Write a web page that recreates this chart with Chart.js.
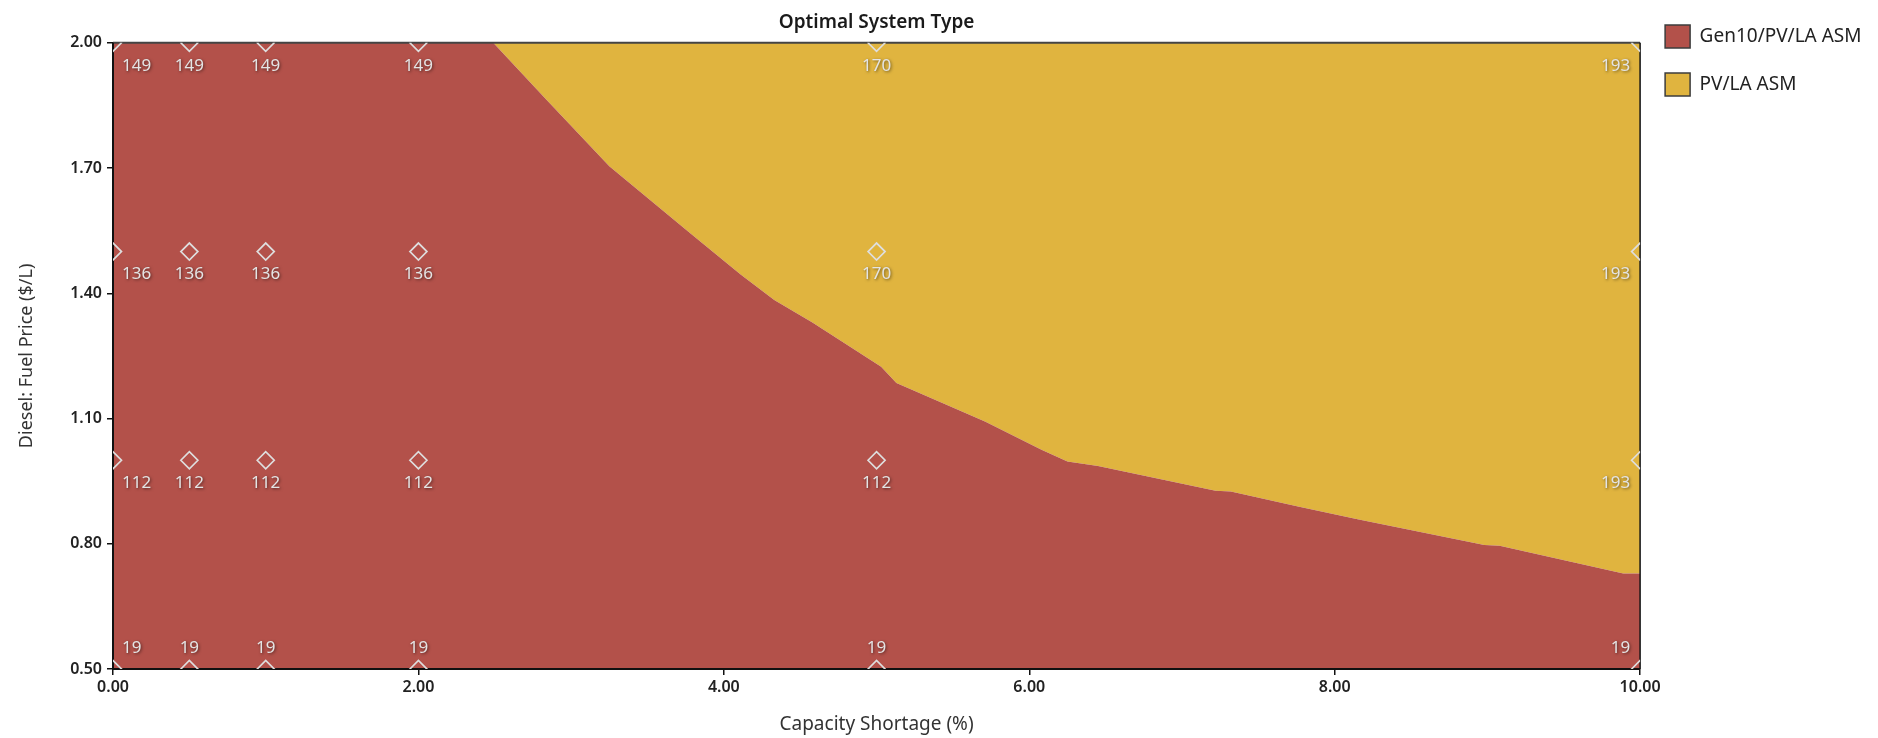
<!DOCTYPE html>
<html>
<head>
<meta charset="utf-8">
<script src="https://cdn.jsdelivr.net/npm/chart.js@4.4.1/dist/chart.umd.min.js"></script>
<style>
  body { margin: 0; background: #fff; }
  #wrap { width: 1878px; height: 738px; position: relative; }
</style>
</head>
<body>
<div id="wrap"><canvas id="chart"></canvas></div>
<script>
// sensitivity grid: capacity shortage (%) x diesel price ($/L)
const shortageValues = [0, 0.5, 1, 2, 5, 10];
const dieselPrices = [0.5, 1.0, 1.5, 2.0];
// value shown at each grid point, one row per diesel price
const costAt050 = [19, 19, 19, 19, 19, 19];
const costAt100 = [112, 112, 112, 112, 112, 193];
const costAt150 = [136, 136, 136, 136, 170, 193];
const costAt200 = [149, 149, 149, 149, 170, 193];

// edge between the two optimal system types
const boundaryX = [0, 2.49, 2.84, 3.25, 3.78, 4.11, 4.33, 4.58, 5.03, 5.13, 5.71, 6.08, 6.25, 6.45, 7.22, 7.32, 7.76, 8.15, 8.98, 9.08, 9.89, 10];
const boundaryY = [2.0, 2.0, 1.863, 1.704, 1.544, 1.445, 1.384, 1.330, 1.224, 1.185, 1.093, 1.025, 0.997, 0.986, 0.927, 0.925, 0.889, 0.859, 0.797, 0.795, 0.729, 0.729];

const systemTypes = ['Gen10/PV/LA ASM', 'PV/LA ASM'];
const typeColors = ['#b3514a', '#e0b43f'];

const xTicks = [0, 2, 4, 6, 8, 10];
const yTicks = [0.5, 0.8, 1.1, 1.4, 1.7, 2.0];

Chart.defaults.font.family = "'Noto Sans', sans-serif";
Chart.defaults.color = '#222';

const costRows = [costAt050, costAt100, costAt150, costAt200];
const gridPoints = [];
dieselPrices.forEach((p, r) => {
  shortageValues.forEach((s, c) => {
    gridPoints.push({ x: s, y: p, cost: costRows[r][c] });
  });
});
const boundary = boundaryX.map((x, i) => ({ x: x, y: boundaryY[i] }));

// frame round the plot, drawn over the fills but under the markers
const plotFrame = {
  id: 'plotFrame',
  beforeDatasetDraw(chart, args) {
    if (args.index !== 0) return;
    const { left, top, right, bottom } = chart.chartArea;
    const ctx = chart.ctx;
    ctx.save();
    ctx.lineWidth = 2;
    ctx.strokeStyle = '#444';
    ctx.beginPath(); ctx.moveTo(left, top); ctx.lineTo(right, top); ctx.stroke();
    ctx.strokeStyle = '#111';
    ctx.beginPath(); ctx.moveTo(left, top); ctx.lineTo(left, bottom); ctx.lineTo(right, bottom); ctx.stroke();
    ctx.lineWidth = 1.5;
    ctx.beginPath(); ctx.moveTo(right, top); ctx.lineTo(right, bottom); ctx.stroke();
    ctx.restore();
  }
};

// numbers next to the grid markers, kept inside the plot
const pointLabels = {
  id: 'pointLabels',
  afterDatasetsDraw(chart) {
    const meta = chart.getDatasetMeta(0);
    const area = chart.chartArea;
    const ctx = chart.ctx;
    ctx.save();
    ctx.font = "17px 'Noto Sans'";
    ctx.textAlign = 'center';
    ctx.textBaseline = 'middle';
    ctx.fillStyle = '#e4e4e4';
    ctx.shadowColor = 'rgba(0,0,0,0.55)';
    ctx.shadowBlur = 3;
    ctx.shadowOffsetX = 1;
    ctx.shadowOffsetY = 1;
    meta.data.forEach((pt, i) => {
      const text = String(chart.data.datasets[0].data[i].cost);
      const w = ctx.measureText(text).width;
      const x = Math.min(Math.max(pt.x, area.left + 9 + w / 2), area.right - 10 - w / 2);
      let y = pt.y + 23;
      if (y + 10 > area.bottom) y = pt.y - 21;
      ctx.fillText(text, x, y);
    });
    ctx.restore();
  }
};

new Chart(document.getElementById('chart'), {
  type: 'scatter',
  data: {
    datasets: [
      {
        label: 'grid',
        data: gridPoints,
        pointStyle: 'rectRot',
        pointRadius: 8.5,
        pointBackgroundColor: 'rgba(0,0,0,0)',
        pointBorderColor: '#dedede',
        pointBorderWidth: 1.7,
        clip: 0,
        order: 0
      },
      {
        type: 'line',
        label: systemTypes[0],
        data: boundary,
        backgroundColor: typeColors[0],
        borderWidth: 0,
        pointRadius: 0,
        tension: 0,
        fill: 'start',
        order: 1
      },
      {
        type: 'line',
        label: systemTypes[1],
        data: boundary,
        backgroundColor: typeColors[1],
        borderWidth: 0,
        pointRadius: 0,
        tension: 0,
        fill: 'end',
        order: 2
      }
    ]
  },
  options: {
    responsive: true,
    maintainAspectRatio: false,
    animation: false,
    events: [],
    layout: { padding: { right: 6.5 } },
    scales: {
      x: {
        type: 'linear',
        min: 0,
        max: 10,
        afterBuildTicks: (s) => { s.ticks = xTicks.map((v) => ({ value: v })); },
        afterFit: (s) => { s.height = 69; },
        ticks: {
          padding: 3,
          color: '#222',
          font: { size: 16, weight: '600' },
          callback: (v) => Number(v).toFixed(2)
        },
        grid: { display: true, drawOnChartArea: false, drawTicks: true, tickLength: 6, color: '#111', lineWidth: 1.5 },
        border: { display: false },
        title: {
          display: true,
          text: 'Capacity Shortage (%)',
          color: '#333',
          font: { size: 19 },
          padding: { top: 0, bottom: 2 }
        }
      },
      y: {
        type: 'linear',
        min: 0.5,
        max: 2.0,
        afterBuildTicks: (s) => { s.ticks = yTicks.map((v) => ({ value: v })); },
        afterFit: (s) => { s.width = 113; },
        ticks: {
          padding: 5,
          color: '#222',
          font: { size: 16, weight: '600' },
          callback: (v) => Number(v).toFixed(2)
        },
        grid: { display: true, drawOnChartArea: false, drawTicks: true, tickLength: 6, color: '#111', lineWidth: 1.5 },
        border: { display: false },
        title: {
          display: true,
          text: 'Diesel: Fuel Price ($/L)',
          color: '#333',
          font: { size: 18 },
          padding: { top: 16, bottom: 0 }
        }
      }
    },
    plugins: {
      tooltip: { enabled: false },
      title: {
        display: true,
        text: 'Optimal System Type',
        fullSize: false,
        color: '#1a1a1a',
        font: { size: 19, weight: '600' },
        padding: { top: 11, bottom: 9 }
      },
      legend: {
        position: 'right',
        align: 'start',
        labels: {
          boxWidth: 25,
          boxHeight: 23,
          padding: 25,
          color: '#222',
          font: { size: 19 },
          generateLabels: () => systemTypes.map((name, i) => ({
            text: name,
            fillStyle: typeColors[i],
            strokeStyle: '#3c3c3c',
            lineWidth: 1.5,
            fontColor: '#222',
            hidden: false,
            datasetIndex: i + 1
          }))
        }
      }
    }
  },
  plugins: [plotFrame, pointLabels]
});
</script>
</body>
</html>
